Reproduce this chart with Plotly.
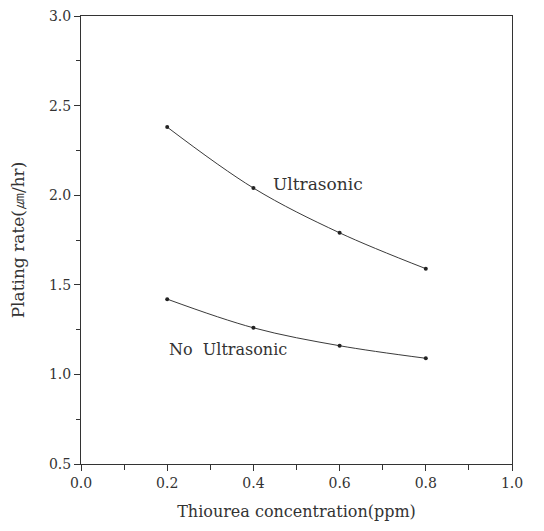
import plotly.graph_objects as go

conc = [0.2, 0.4, 0.6, 0.8]
ultrasonic = [2.38, 2.04, 1.79, 1.59]
no_ultrasonic = [1.42, 1.26, 1.16, 1.09]

x_ticks = [0.0, 0.2, 0.4, 0.6, 0.8, 1.0]
y_ticks = [0.5, 1.0, 1.5, 2.0, 2.5, 3.0]

FONT = "DejaVu Serif"
INK = "#333333"

fig = go.Figure()
for ys in (ultrasonic, no_ultrasonic):
    fig.add_trace(go.Scatter(
        x=conc, y=ys, mode="lines+markers",
        line=dict(color="#3a3a3a", width=1, shape="spline"),
        marker=dict(color="#222222", size=4),
        showlegend=False))

fig.add_annotation(x=0.44, y=2.06, text="Ultrasonic", showarrow=False,
                   xanchor="left", yanchor="middle",
                   font=dict(family=FONT, size=17, color=INK))
fig.add_annotation(x=0.2, y=1.14, text="No  Ultrasonic", showarrow=False,
                   xanchor="left", yanchor="middle",
                   font=dict(family=FONT, size=16, color=INK))

axis_common = dict(
    showgrid=False, zeroline=False, showline=True, linecolor="#333333",
    linewidth=1, mirror=True, ticks="outside", ticklen=6, tickwidth=1,
    tickcolor="#333333", tickfont=dict(family=FONT, size=14, color=INK),
    ticklabeloverflow="allow", automargin=False,
)

fig.update_xaxes(range=[0, 1.0], tickvals=x_ticks, ticktext=[f"{v:.1f}" for v in x_ticks],
                 minor=dict(dtick=0.1, ticks="outside", ticklen=5, tickcolor="#333333"),
                 title=dict(text="Thiourea concentration(ppm)", standoff=16,
                            font=dict(family=FONT, size=16, color=INK)),
                 **axis_common)
fig.update_yaxes(range=[0.5, 3.0], tickvals=y_ticks, ticktext=[f"{v:.1f}" for v in y_ticks],
                 minor=dict(dtick=0.25, ticks="outside", ticklen=4, tickcolor="#333333"),
                 title=dict(text="Plating rate(㎛/hr)", standoff=21,
                            font=dict(family=FONT, size=17, color=INK)),
                 **axis_common)

# page body has an 8px default margin; compensate so the plot area sits where it does in the reference
fig.update_layout(
    width=536, height=523,
    margin=dict(l=73, r=32, t=8, b=67),
    plot_bgcolor="white", paper_bgcolor="white",
)

fig.write_html("out.html")
